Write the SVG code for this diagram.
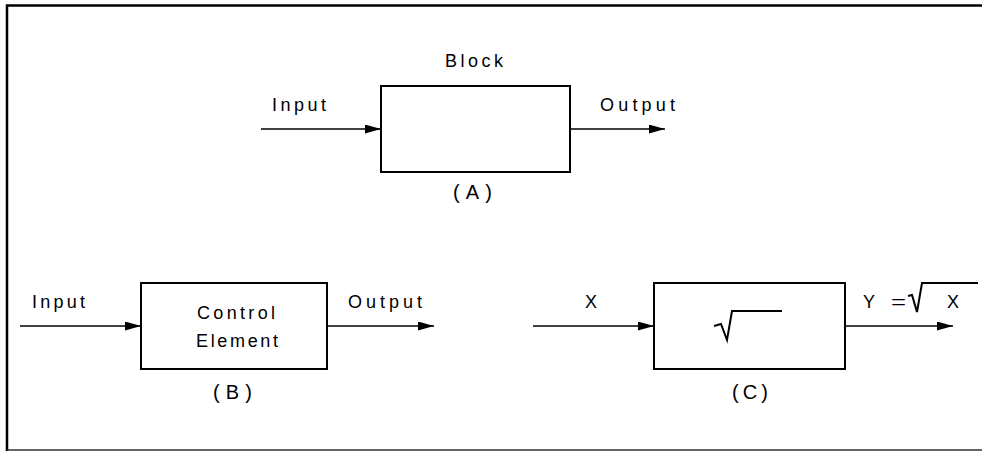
<svg xmlns="http://www.w3.org/2000/svg" width="982" height="451" viewBox="0 0 982 451">
<style>
  text { font-family: "Liberation Sans", Arial, sans-serif; font-size: 18px; fill: #000; }
  .cap { font-size: 20px; }
  .box { fill: #fff; stroke: #000; stroke-width: 2; }
  .wire { fill: none; stroke: #000; stroke-width: 1.5; }
  .rad { fill: none; stroke: #000; stroke-width: 2; stroke-linejoin: miter; }
  .frame { fill: none; stroke: #000; stroke-width: 2.5; }
</style>
<defs>
  <marker id="arr" viewBox="0 0 16 9" refX="16" refY="4.5" markerUnits="userSpaceOnUse" markerWidth="16" markerHeight="9" orient="auto">
    <path d="M0,0 L16,4.5 L0,9 Z" fill="#000"/>
  </marker>
</defs>
<rect width="982" height="451" fill="#fff"/>
<g id="frame">
  <path class="frame" d="M982,5.5 H7 V451"/>
  <path d="M7,450 H982" stroke="#333" stroke-width="1.5" fill="none"/>
</g>
<g id="connectors">
  <path class="wire" d="M261,129 H381" marker-end="url(#arr)"/>
  <path class="wire" d="M570,129 H665" marker-end="url(#arr)"/>
  <path class="wire" d="M20,326 H141" marker-end="url(#arr)"/>
  <path class="wire" d="M327,326 H434" marker-end="url(#arr)"/>
  <path class="wire" d="M533,326 H654" marker-end="url(#arr)"/>
  <path class="wire" d="M845,326 H953" marker-end="url(#arr)"/>
</g>
<g id="blockA">
  <rect class="box" x="381" y="86" width="189" height="86"/>
  <text x="445" y="67" textLength="58" lengthAdjust="spacing">Block</text>
  <text class="cap" x="453" y="199" textLength="39" lengthAdjust="spacing">(A)</text>
</g>
<g id="labelsA">
  <text x="272" y="111" textLength="54" lengthAdjust="spacing">Input</text>
  <text x="600" y="111" textLength="75" lengthAdjust="spacing">Output</text>
</g>
<g id="blockB">
  <rect class="box" x="141" y="283" width="186" height="86"/>
  <text x="197" y="319" textLength="78" lengthAdjust="spacing">Control</text>
  <text x="196" y="347" textLength="82" lengthAdjust="spacing">Element</text>
  <text class="cap" x="213" y="399" textLength="39" lengthAdjust="spacing">(B)</text>
</g>
<g id="labelsB">
  <text x="32" y="308" textLength="53" lengthAdjust="spacing">Input</text>
  <text x="348" y="308" textLength="74" lengthAdjust="spacing">Output</text>
</g>
<g id="blockC">
  <rect class="box" x="654" y="283" width="191" height="86"/>
  <path class="rad" d="M714,326 L721,324 L727,340 L732,311 H782"/>
  <text class="cap" x="732" y="399" textLength="36" lengthAdjust="spacing">(C)</text>
</g>
<g id="labelsC">
  <text x="585" y="308">X</text>
  <text x="863" y="308">Y</text>
  <text x="891" y="308" textLength="15" lengthAdjust="spacingAndGlyphs">=</text>
  <path class="rad" d="M908,296 L912,295 L917,312 L922,283 H978"/>
  <text x="947" y="308">X</text>
</g>
</svg>
